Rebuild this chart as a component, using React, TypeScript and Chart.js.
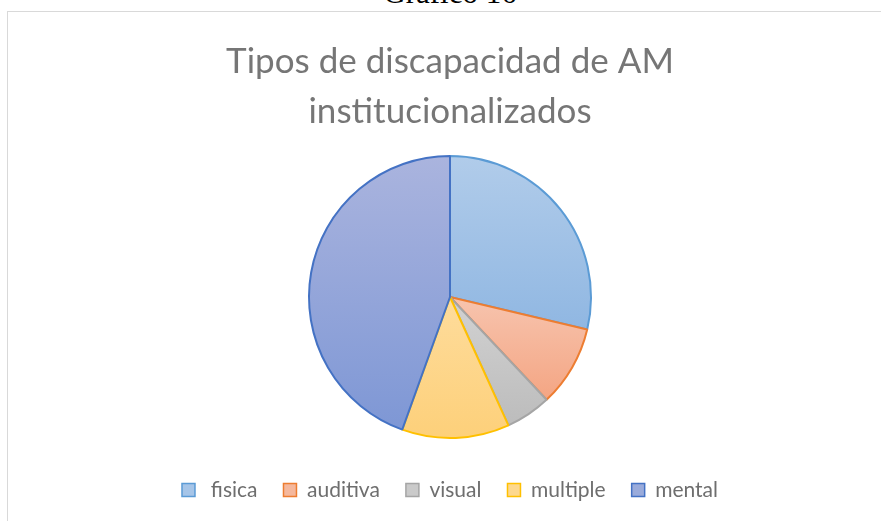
import React, { useEffect, useRef } from 'react';
import { Chart, registerables } from 'chart.js';

Chart.register(...registerables);

const pageHeading = 'Gráfico 16';
const titleLines = ['Tipos de discapacidad de AM', 'institucionalizados'];
const categories = [' fisica', 'auditiva', 'visual', 'multiple', 'mental'];
const values = [28.7, 9.3, 5.2, 12.3, 44.5];

const gradTop = ['#B1CCEA', '#F7C4AE', '#D2D2D2', '#FEDC9C', '#AAB4DE'];
const gradBottom = ['#90B7E2', '#F4A583', '#BCBCBC', '#FDD07A', '#7E97D5'];
const legendFill = ['#A6C5E8', '#F5B89D', '#CACACA', '#FDD88E', '#9AABDB'];
const borderColors = ['#5B9BD5', '#ED7D31', '#A5A5A5', '#FFC000', '#4472C4'];

const BORDER_W = 2;

function sliceBounds(chart: any, index: number) {
  const area = chart.chartArea;
  const cy = (area.top + area.bottom) / 2;
  const r = (Math.min(area.right - area.left, area.bottom - area.top) - BORDER_W) / 2;
  const total = values.reduce((a, b) => a + b, 0);
  let start = -Math.PI / 2;
  for (let i = 0; i < index; i++) start += (values[i] / total) * 2 * Math.PI;
  const end = start + (values[index] / total) * 2 * Math.PI;
  const angles = [start, end];
  for (const a of [-Math.PI / 2, Math.PI / 2, (3 * Math.PI) / 2]) {
    if (a >= start && a <= end) angles.push(a);
  }
  let ymin = cy;
  let ymax = cy;
  for (const a of angles) {
    const y = cy + r * Math.sin(a);
    ymin = Math.min(ymin, y);
    ymax = Math.max(ymax, y);
  }
  return { ymin, ymax };
}

export default function App() {
  const canvasRef = useRef<HTMLCanvasElement>(null);

  useEffect(() => {
    document.body.style.margin = '0';
    document.body.style.overflow = 'hidden';
    const canvas = canvasRef.current;
    if (!canvas) return;
    const chart = new Chart(canvas, {
      type: 'pie',
      data: {
        labels: categories,
        datasets: [
          {
            data: values,
            backgroundColor: (ctx: any) => {
              const i = ctx.dataIndex;
              if (i === undefined) return gradTop[0];
              const c = ctx.chart;
              if (!c.chartArea) return gradTop[i];
              const { ymin, ymax } = sliceBounds(c, i);
              const g = c.ctx.createLinearGradient(0, ymin, 0, ymax);
              g.addColorStop(0, gradTop[i]);
              g.addColorStop(1, gradBottom[i]);
              return g;
            },
            borderColor: borderColors,
            borderWidth: BORDER_W,
          },
        ],
      },
      options: {
        responsive: false,
        animation: false,
        devicePixelRatio: 1,
        layout: { padding: { top: 0, bottom: 10.5, left: 0, right: 0 } },
        plugins: {
          tooltip: { enabled: false },
          title: {
            display: true,
            text: titleLines,
            color: '#767676',
            font: { family: 'Lato', size: 35, weight: 'normal', lineHeight: 50 / 35 },
            padding: { top: 24.5, bottom: 18.5 },
          },
          legend: {
            display: true,
            position: 'bottom',
            title: {
              display: true,
              text: '',
              font: { size: 1, lineHeight: 1 },
              padding: { top: 13.5, bottom: 0 },
            },
            labels: {
              boxWidth: 13,
              boxHeight: 13,
              padding: 26,
              color: '#6E6E6E',
              font: { family: 'Lato', size: 21 },
              generateLabels: () =>
                categories.map((c, i) => ({
                  text: c,
                  fillStyle: legendFill[i],
                  strokeStyle: borderColors[i],
                  lineWidth: 1.5,
                  hidden: false,
                  index: i,
                  fontColor: '#6E6E6E',
                })),
            },
          },
        },
      },
    } as any);
    return () => chart.destroy();
  }, []);

  return (
    <div
      style={{
        position: 'fixed',
        left: 0,
        top: 0,
        width: 881,
        height: 521,
        overflow: 'hidden',
        background: '#ffffff',
      }}
    >
      <div
        style={{
          position: 'absolute',
          left: 0,
          top: -23,
          width: 900,
          textAlign: 'center',
          fontFamily: '"Liberation Serif", "Times New Roman", serif',
          fontSize: 31,
          lineHeight: '31px',
          color: '#000',
          whiteSpace: 'nowrap',
        }}
      >
        {pageHeading}
      </div>
      <div
        style={{
          position: 'absolute',
          left: 7,
          top: 11,
          width: 884,
          height: 540,
          border: '1px solid #D9D9D9',
        }}
      >
        <canvas
          ref={canvasRef}
          width={884}
          height={509}
          style={{ display: 'block', width: 884, height: 509 }}
        />
      </div>
    </div>
  );
}
